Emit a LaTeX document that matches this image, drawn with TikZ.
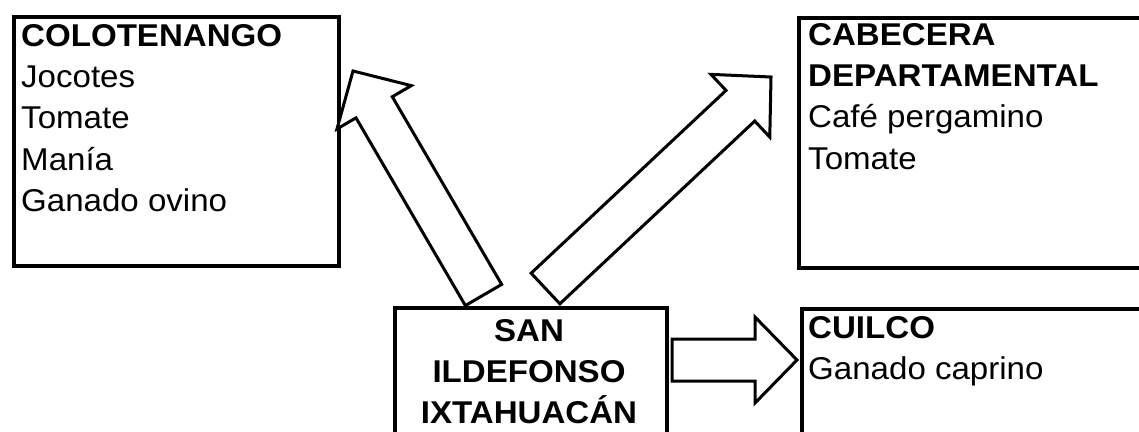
\documentclass[tikz,border=0pt]{standalone}
\usepackage{fontspec}
\setmainfont[FakeStretch=1.05]{Liberation Sans}
\usetikzlibrary{calc}

\begin{document}
\begin{tikzpicture} [ x=1pt, y=-1pt,
		      caja/.style={draw, line width=3.5pt, inner sep=0pt, anchor=north west},
		      texto/.style={inner sep=0pt, anchor=north west, align=left,
		                    font=\fontsize{31.5}{41.3}\selectfont},
		      flecha/.style={draw, fill=white, line width=3pt, line join=miter}
		    ]
  \useasboundingbox (0,0) rectangle (1139,431);

  % cajas
  \node[caja, minimum width=325pt, minimum height=249pt] (colo) at (12,15) {};
  \node[caja, minimum width=400pt, minimum height=250pt] (cabe) at (797,16) {};
  \node[caja, minimum width=400pt, minimum height=200pt] (cuil) at (800,307) {};
  \node[caja, minimum width=272pt, minimum height=200pt] (san) at (393,306) {};

  % textos
  \node[texto] (colotxt) at (21,24) {\textbf{COLOTENANGO}\\Jocotes\\Tomate\\Manía\\Ganado ovino};
  \node[texto] (cabetxt) at (808,23) {\textbf{CABECERA}\\\textbf{DEPARTAMENTAL}\\Café pergamino\\Tomate};
  \node[texto] (cuiltxt) at (808,316) {\textbf{CUILCO}\\Ganado caprino};
  \node[texto, anchor=north, align=center] (santxt) at (529,319) {\textbf{SAN}\\\textbf{ILDEFONSO}\\\textbf{IXTAHUACÁN}};

  % flechas
  \coordinate (cola1) at (483.5,295);  \coordinate (punta1) at (353,71);
  \coordinate (cola2) at (545.5,288.5); \coordinate (punta2) at (771,77);
  \coordinate (cola3) at (672,360);    \coordinate (punta3) at (797,360);

  \foreach \c/\p in {cola1/punta1, cola2/punta2, cola3/punta3}{
    \coordinate (b) at ($(\p)!42pt!(\c)$);
    \draw[flecha] ($(\c)!21pt!90:(\p)$) -- ($(b)!21pt!90:(\p)$) -- ($(b)!43pt!90:(\p)$)
      -- (\p) -- ($(b)!43pt!-90:(\p)$) -- ($(b)!21pt!-90:(\p)$) -- ($(\c)!21pt!-90:(\p)$) -- cycle;
  }
\end{tikzpicture}
\end{document}
